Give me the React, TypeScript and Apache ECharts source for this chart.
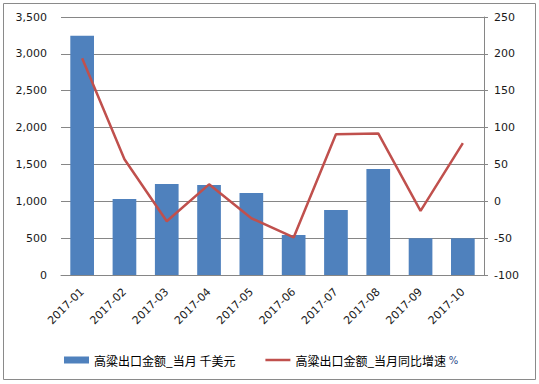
import React, { useEffect, useRef } from "react";
import * as echarts from "echarts";

const categories = ["2017-01", "2017-02", "2017-03", "2017-04", "2017-05", "2017-06", "2017-07", "2017-08", "2017-09", "2017-10"];
const amountValues = [3245, 1032, 1234, 1222, 1112, 543, 882, 1438, 498, 498];
const growthValues = [194, 57, -27, 23, -23, -49, 91, 92, -13, 79];
const barName = "高粱出口金额_当月 千美元";
const lineName = "高粱出口金额_当月同比增速 %";

export default function App() {
  const ref = useRef<HTMLDivElement>(null);
  useEffect(() => {
    if (!ref.current) return;
    const chart = echarts.init(ref.current, undefined, { renderer: "svg" });
    const font = "DejaVu Sans";
    chart.setOption({
      animation: false,
      backgroundColor: "#ffffff",
      grid: { left: 61, right: 55, top: 17, bottom: 109, containLabel: false },
      graphic: [
        {
          type: "rect",
          shape: { x: 3.5, y: 3.5, width: 532, height: 376 },
          style: { fill: "none", stroke: "#8a8a8a", lineWidth: 1 },
          silent: true,
        },
      ],
      legend: {
        bottom: 13,
        left: 59,
        itemGap: 30,
        itemWidth: 25,
        itemHeight: 7,
        symbolKeepAspect: true,
        textStyle: {
          fontFamily: "Noto Sans CJK SC",
          fontSize: 12,
          color: "#000",
          rich: {
            p: { fontFamily: font, fontSize: 10, color: "#2a4a8a" },
          },
        },
        formatter: (name: string) => {
          if (name.endsWith(" %")) return name.slice(0, -2) + " {p|%}";
          return name;
        },
        data: [
          { name: barName, icon: "rect" },
          {
            name: lineName,
            icon: "path://M0,0 L50,0 L50,5 L0,5 Z",
            itemStyle: { color: "#C0504D", borderWidth: 0 },
          },
        ],
      },
      xAxis: {
        type: "category",
        data: categories,
        axisLine: { show: true, lineStyle: { color: "#868686" } },
        axisTick: { show: false },
        axisLabel: {
          rotate: 45,
          margin: 15,
          fontFamily: font,
          fontSize: 11,
          color: "#1a1a1a",
          interval: 0,
        },
      },
      yAxis: [
        {
          type: "value",
          min: 0,
          max: 3500,
          interval: 500,
          axisLine: { show: false },
          axisTick: { show: false },
          splitLine: { lineStyle: { color: "#868686" } },
          axisLabel: {
            fontFamily: font,
            fontSize: 11,
            color: "#1a1a1a",
            margin: 14,
            formatter: (v: number) => v.toLocaleString("en-US"),
          },
        },
        {
          type: "value",
          min: -100,
          max: 250,
          interval: 50,
          position: "right",
          axisLine: { show: true, lineStyle: { color: "#868686" } },
          axisTick: { show: true, length: 4, lineStyle: { color: "#868686" } },
          splitLine: { show: false },
          axisLabel: { fontFamily: font, fontSize: 11, color: "#1a1a1a", margin: 10 },
        },
      ],
      series: [
        {
          name: barName,
          type: "bar",
          data: amountValues,
          yAxisIndex: 0,
          barWidth: "56%",
          itemStyle: { color: "#4F81BD" },
        },
        {
          name: lineName,
          type: "line",
          data: growthValues,
          yAxisIndex: 1,
          symbol: "none",
          lineStyle: { color: "#C0504D", width: 2.5 },
          itemStyle: { color: "#C0504D" },
        },
      ],
    });
    return () => chart.dispose();
  }, []);
  return <div ref={ref} style={{ width: 539, height: 384, position: "absolute", left: 0, top: 0 }} />;
}
